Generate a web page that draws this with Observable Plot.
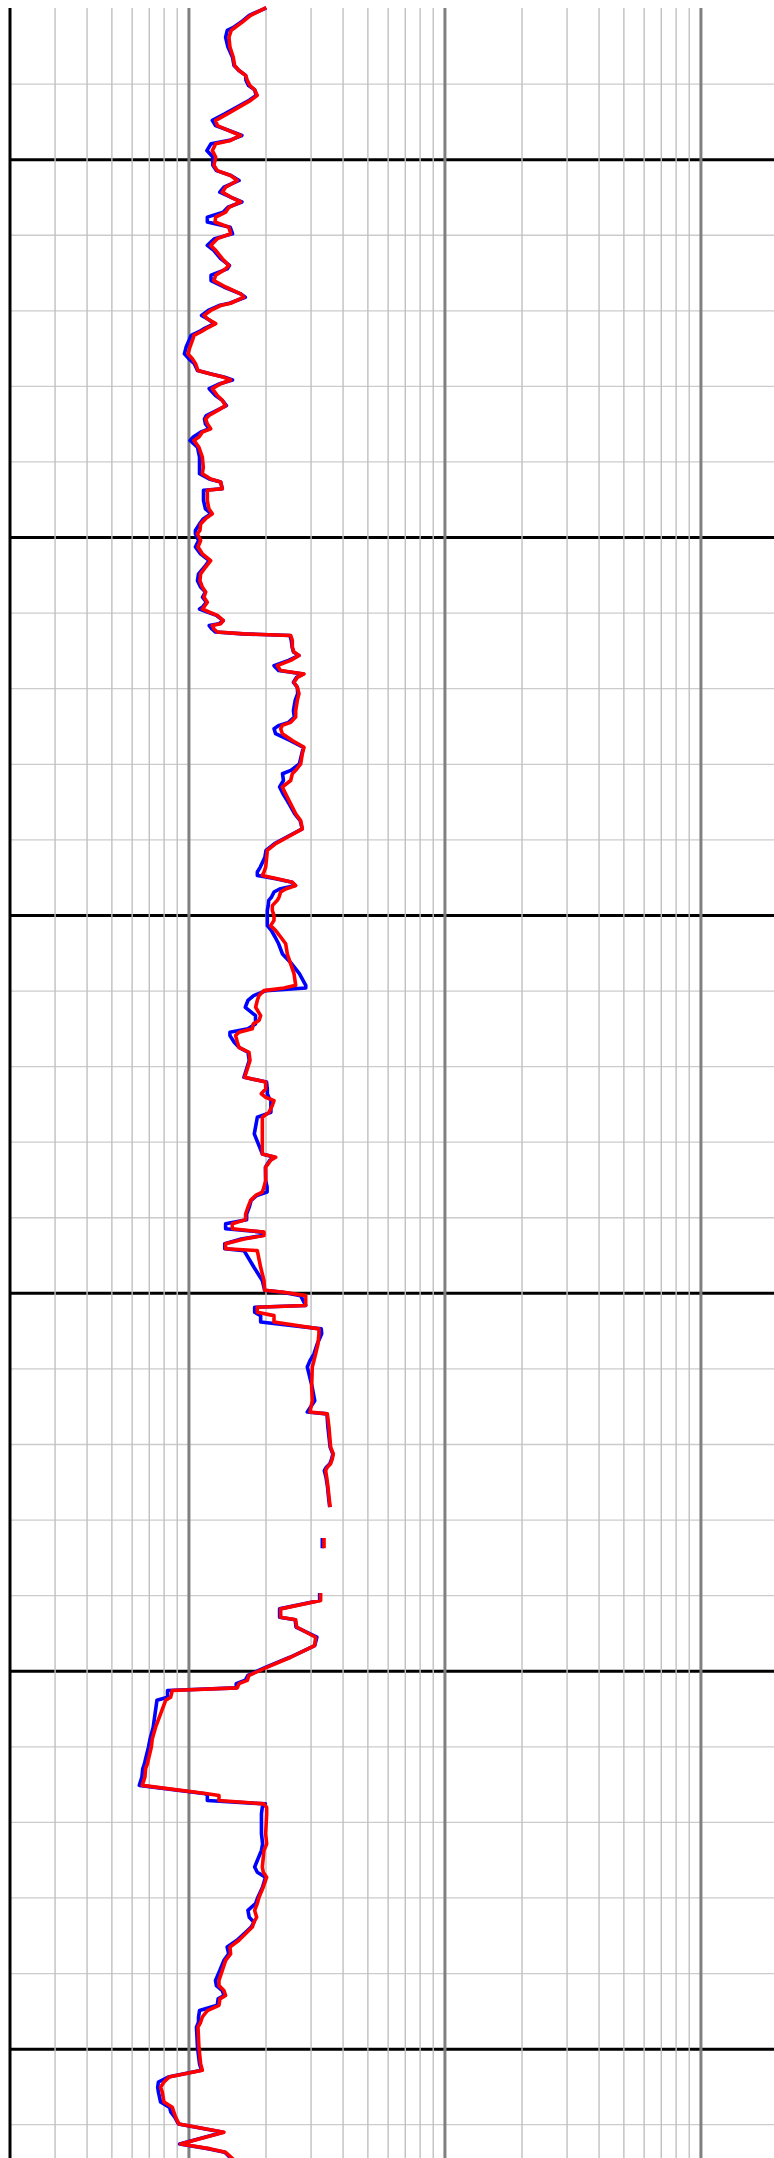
<!DOCTYPE html>
<html>
<head>
<meta charset="utf-8">
<script src="https://cdn.jsdelivr.net/npm/d3@7"></script>
<script src="https://cdn.jsdelivr.net/npm/@observablehq/plot@0.6"></script>
<style>
  html, body { margin: 0; padding: 0; background: #fff; }
  #chart svg { display: block; }
</style>
</head>
<body>
<div id="chart"></div>
<script>
// Depth samples (shared by both curves); NaN marks missing data
const depth = [
  960.0, 961.8, 963.6, 964.9, 965.8, 967.6, 970.2, 972.9, 975.1, 976.4,
  977.7, 979.0, 980.4, 981.5, 983.0, 984.3, 986.1, 987.9, 989.6, 991.0,
  992.3, 993.6, 994.9, 995.8, 997.6, 999.3, 1001.5, 1002.9, 1004.2, 1005.5,
  1007.3, 1008.6, 1009.9, 1011.2, 1012.6, 1013.9, 1015.2, 1016.5, 1017.9, 1019.6,
  1020.9, 1022.7, 1024.0, 1026.2, 1028.0, 1028.9, 1030.6, 1032.0, 1033.7, 1035.5,
  1036.4, 1038.0, 1038.6, 1039.9, 1041.2, 1042.1, 1043.4, 1044.8, 1045.6, 1046.5,
  1047.9, 1049.6, 1051.4, 1052.7, 1054.0, 1055.8, 1056.7, 1057.6, 1058.3, 1059.3,
  1060.6, 1062.4, 1063.7, 1065.1, 1066.4, 1067.7, 1068.6, 1069.9, 1071.2, 1072.1,
  1073.4, 1074.3, 1076.1, 1078.7, 1081.4, 1083.1, 1084.5, 1085.3, 1087.1, 1087.5,
  1090.2, 1092.4, 1093.7, 1095.0, 1096.4, 1098.1, 1099.0, 1100.8, 1102.5, 1104.3,
  1106.1, 1107.8, 1109.6, 1111.4, 1113.1, 1114.4, 1115.8, 1117.1, 1118.4, 1118.9,
  1119.7, 1120.6, 1122.0, 1122.8, 1123.3, 1124.2, 1125.0, 1125.5, 1125.9, 1127.2,
  1129.0, 1130.3, 1131.2, 1132.5, 1133.9, 1135.2, 1136.1, 1137.0, 1138.3, 1139.6,
  1141.3, 1143.1, 1145.8, 1147.5, 1148.9, 1149.7, 1150.6, 1151.9, 1153.7, 1155.5,
  1157.2, 1159.9, 1161.6, 1162.5, 1164.3, 1166.0, 1167.8, 1169.6, 1171.3, 1173.1,
  1174.9, 1177.1, 1179.3, 1181.0, 1182.8, 1184.6, 1187.2, 1188.5, 1189.4, 1190.3,
  1191.2, 1192.1, 1193.0, 1193.8, 1195.2, 1196.0, 1197.4, 1198.7, 1200.0, 1201.3,
  1202.7, 1204.0, 1205.7, 1207.5, 1210.2, 1212.8, 1215.4, 1218.5, 1219.2, 1219.9,
  1221.2, 1222.5, 1224.3, 1226.5, 1227.8, 1228.7, 1230.0, 1230.9, 1231.8, 1233.5,
  1234.9, 1236.2, 1238.4, 1242.8, 1244.1, 1245.9, 1247.2, 1248.1, 1249.0, 1250.3,
  1252.1, 1253.4, 1257.8, 1263.1, 1264.0, 1264.8, 1266.6, 1270.1, 1271.9, 1273.2,
  1274.1, 1275.4, 1277.2, 1279.0, 1280.5, 1281.6, 1282.9, 1283.8, 1284.7, 1285.6,
  1286.9, 1288.2, 1288.7, 1293.1, 1296.6, 1299.2, 1299.7, 1300.6, 1303.2, 1303.7,
  1305.0, 1305.9, 1307.6, 1309.4, 1310.7, 1313.4, 1316.0, 1317.8, 1319.5, 1324.8,
  1328.4, 1331.4, 1331.9, 1335.4, 1340.7, 1342.5, 1343.8, 1345.1, 1346.0, 1346.9,
  1348.6, 1351.3, 1353.9, 1356.1, 1360.0, 1365.2, 1367.0, 1373.0, 1379.8, 1381.3,
  1383.5, 1385.7, 1386.4, 1388.3, 1391.0, 1393.2, 1396.3, 1398.9, 1401.1, 1402.4,
  1403.3, 1404.4, 1405.1, 1406.9, 1407.7, 1414.8, 1417.9, 1420.1, 1422.7, 1424.5,
  1425.8, 1428.0, 1430.2, 1432.4, 1432.9, 1434.2, 1435.1, 1436.0, 1437.7, 1443.0,
  1445.7, 1447.4, 1451.8, 1453.2, 1454.5, 1457.1, 1459.8, 1461.5, 1463.3, 1465.1,
  1466.4, 1467.7, 1469.0, 1471.2, 1473.0, 1474.8, 1476.5, 1479.2, 1481.8, 1483.2,
  1484.5, 1485.8, 1486.7, 1488.4, 1489.8, 1491.5, 1492.9, 1494.2, 1499.5, 1503.9,
  1505.6, 1507.4, 1508.7, 1510.1, 1511.4, 1514.0, 1515.4, 1516.7, 1518.0, 1519.8,
  1522.0, 1525.1, 1526.4, 1527.3, 1528.9
];

const redCurve = [
  19.76, 17.42, 16.16, 15.22, 14.63, 14.33, 14.46, 14.90, 15.08, 15.68,
  16.65, 16.90, 17.32, 18.06, 18.49, 17.42, 15.68, 14.12, 12.72, 12.91,
  14.33, 15.92, 14.55, 12.72, 12.34, 12.72, 12.52, 12.91, 14.55, 15.45,
  13.91, 13.50, 14.55, 15.92, 14.33, 13.91, 12.72, 12.64, 14.33, 14.55,
  12.91, 12.16, 12.72, 13.50, 14.33, 13.91, 12.72, 12.52, 13.91, 15.92,
  16.41, 14.55, 13.30, 12.16, 11.45, 11.80, 12.72, 11.62, 11.11, 10.46,
  10.31, 10.09, 9.91, 10.31, 10.62, 10.85, 12.16, 13.70, 14.55, 13.30,
  12.34, 12.91, 13.50, 13.91, 12.91, 11.97, 11.62, 11.80, 12.16, 11.28,
  10.94, 10.46, 10.94, 11.28, 11.38, 11.28, 12.16, 13.30, 13.50, 11.80,
  11.80, 11.97, 12.34, 11.62, 11.11, 11.04, 10.78, 11.11, 10.85, 11.28,
  12.16, 11.62, 11.11, 11.04, 11.28, 11.62, 11.45, 11.80, 11.45, 11.28,
  11.97, 12.91, 13.62, 13.30, 12.34, 12.52, 12.91, 16.41, 24.97, 25.34,
  25.34, 25.73, 26.91, 24.97, 22.14, 22.82, 28.15, 26.51, 25.73, 26.51,
  26.91, 26.51, 26.12, 26.12, 24.97, 23.16, 22.82, 23.16, 25.34, 28.15,
  27.73, 27.32, 26.12, 25.34, 24.97, 23.16, 23.87, 24.60, 25.34, 26.12,
  27.32, 27.73, 24.23, 21.82, 20.24, 20.12, 19.94, 19.64, 19.35, 22.14,
  25.34, 26.12, 23.87, 22.82, 22.48, 22.14, 21.17, 21.17, 21.49, 21.49,
  20.85, 21.82, 22.82, 23.87, 24.23, 24.97, 25.73, 26.12, 23.51, 19.64,
  18.78, 18.49, 18.22, 19.06, 18.78, 17.84, 17.68, 15.68, 15.22, 15.45,
  15.68, 17.16, 17.32, 16.51, 19.94, 19.94, 19.17, 19.94, 21.49, 21.17,
  20.54, 19.35, 19.35, 19.35, 21.82, 20.85, 19.94, 19.94, 19.64, 19.35,
  18.22, 17.42, 17.01, 16.65, 16.65, 14.77, 14.77, 19.64, 19.64, 16.41,
  13.91, 13.91, 18.49, 19.06, 19.64, 19.76, 23.51, 28.58, 28.58, 18.49,
  18.49, 21.49, 21.49, 32.20, 32.20, 31.92, 31.25, 30.79, 30.33, 30.15,
  30.33, 29.71, 34.72, 35.24, 35.77, 36.64, 36.31, 35.77, 34.72, 34.20,
  34.51, 34.93, 35.24, 35.56, NaN, 33.7, 33.7, NaN, 32.69, 32.69,
  22.82, 22.82, 26.12, 26.35, 31.25, 30.97, 24.97, 20.24, 17.16, 16.90,
  15.68, 15.45, 8.61, 8.48, 8.11, 7.41, 7.19, 7.13, 6.98, 6.88,
  6.77, 6.73, 6.57, 11.80, 13.10, 13.10, 19.64, 20.12, 20.12, 19.94,
  20.12, 19.64, 19.35, 19.52, 20.12, 19.52, 18.78, 18.49, 18.06, 18.39,
  17.95, 17.68, 16.90, 15.68, 14.46, 14.55, 13.91, 13.50, 13.10, 13.10,
  13.70, 13.91, 13.22, 13.10, 11.80, 11.28, 11.11, 10.85, 10.94, 11.11,
  11.28, 8.36, 7.99, 7.75, 7.87, 7.99, 8.61, 8.74, 8.87, 9.14,
  13.70, 9.28, 12.16, 13.91, 14.77
];

const blueCurve = [
  19.76, 17.2, 16.0, 15.0, 14.12, 13.91, 14.2, 14.8, 15.0, 15.68,
  16.65, 16.7, 17.1, 18.06, 18.3, 17.2, 15.4, 13.8, 12.34, 12.7,
  14.33, 16.1, 14.4, 12.2, 11.75, 12.4, 12.4, 12.8, 14.6, 15.7,
  13.7, 13.2, 14.55, 16.1, 14.2, 13.6, 11.8, 11.8, 14.5, 14.8,
  12.6, 11.8, 12.5, 13.3, 14.4, 14.1, 12.2, 12.2, 13.7, 15.9,
  16.6, 14.4, 13.1, 11.9, 11.2, 11.8, 12.6, 11.4, 10.9, 10.2,
  10.0, 9.75, 9.6, 10.0, 10.5, 10.8, 12.2, 13.8, 14.8, 13.2,
  12.0, 12.7, 13.5, 14.0, 12.8, 11.7, 11.5, 11.6, 12.0, 11.1,
  10.4, 10.1, 10.8, 11.0, 11.0, 11.0, 12.0, 13.3, 13.5, 11.4,
  11.4, 11.6, 12.2, 11.4, 11.0, 10.6, 10.6, 10.9, 10.6, 11.1,
  12.0, 11.5, 10.9, 10.8, 11.1, 11.6, 11.3, 11.7, 11.3, 11.0,
  11.8, 12.8, 13.6, 13.1, 12.0, 12.3, 12.7, 16.2, 24.8, 25.1,
  25.3, 25.6, 26.9, 24.5, 21.5, 22.4, 28.0, 26.3, 25.6, 26.5,
  26.6, 26.0, 25.6, 25.8, 24.5, 22.5, 21.5, 21.8, 24.8, 28.0,
  27.6, 27.0, 25.0, 23.2, 23.4, 22.6, 23.3, 24.2, 25.0, 25.9,
  27.2, 27.7, 24.0, 21.6, 20.0, 19.8, 19.0, 18.5, 18.5, 21.8,
  25.3, 26.0, 22.6, 21.5, 21.0, 20.5, 20.4, 20.24, 20.24, 20.24,
  20.24, 21.0, 21.7, 22.4, 23.2, 25.2, 27.0, 28.6, 28.6, 20.0,
  17.9, 17.0, 16.6, 18.2, 18.2, 18.2, 17.0, 14.46, 14.46, 15.0,
  15.68, 17.0, 17.2, 16.4, 20.1, 20.24, 20.24, 20.5, 20.9, 20.9,
  20.9, 18.5, 18.0, 19.35, 21.6, 20.7, 19.9, 19.94, 20.2, 20.2,
  18.4, 17.5, 17.2, 16.8, 16.8, 13.91, 13.91, 19.4, 19.4, 16.0,
  13.8, 13.8, 16.41, 17.95, 19.35, 19.76, 23.2, 27.3, 28.58, 18.06,
  18.06, 19.06, 19.06, 32.88, 33.0, 31.7, 30.79, 29.7, 29.0, 30.3,
  31.0, 29.0, 34.6, 34.9, 35.6, 36.5, 36.1, 35.5, 34.4, 33.8,
  34.3, 34.8, 35.1, 35.4, NaN, 33.19, 33.19, NaN, 32.4, 32.4,
  22.6, 22.6, 26.0, 26.2, 31.6, 31.0, 24.8, 20.0, 17.0, 16.6,
  15.3, 15.3, 8.25, 8.25, 7.5, 7.25, 7.05, 6.95, 6.8, 6.7,
  6.6, 6.55, 6.4, 11.6, 11.8, 11.8, 19.9, 19.35, 19.2, 19.2,
  19.4, 19.2, 18.06, 18.5, 19.9, 19.4, 18.6, 18.2, 17.0, 17.2,
  17.95, 17.5, 16.7, 15.4, 14.1, 14.3, 13.7, 13.2, 12.7, 12.8,
  13.5, 13.7, 13.0, 12.9, 11.0, 10.9, 10.9, 10.7, 10.8, 11.0,
  11.2, 8.3, 7.6, 7.55, 7.6, 7.75, 8.4, 8.5, 8.8, 9.1,
  13.6, 9.2, 12.0, 13.8, 14.6
];

// Grid values
const xMinorTicks = [3,4,5,6,7,8,9, 20,30,40,50,60,70,80,90, 200,300,400,500,600,700,800,900];
const xMajorTicks = [10, 100, 1000];
const xAxisLeft = [2];
const depthMinor = [980,1020,1040,1060,1080,1120,1140,1160,1180,1220,1240,1260,1280,1320,1340,1360,1380,1420,1440,1460,1480,1520];
const depthMajor = [1000,1100,1200,1300,1400,1500];

const rows = depth.map((d, i) => ({depth: d, red: redCurve[i], blue: blueCurve[i]}));

const chart = Plot.plot({
  width: 774,
  height: 2158,
  marginTop: 8,
  marginLeft: 9.5,
  marginRight: 0,
  marginBottom: 0,
  x: {type: "log", domain: [2, 2000], range: [9.5, 777.5], axis: null},
  y: {domain: [960, 1530], range: [8, 2162], axis: null},
  marks: [
    Plot.ruleY(depthMinor, {stroke: "#cccccc", strokeWidth: 1.3}),
    Plot.ruleY(depthMajor, {stroke: "#000000", strokeWidth: 3}),
    Plot.ruleX(xMinorTicks, {stroke: "#c0c0c0", strokeWidth: 1.4}),
    Plot.ruleX(xMajorTicks, {stroke: "#808080", strokeWidth: 3}),
    Plot.ruleX(xAxisLeft, {stroke: "#000000", strokeWidth: 3}),
    Plot.line(rows, {x: "blue", y: "depth", stroke: "#0000ff", strokeWidth: 3.6, strokeLinejoin: "round", strokeLinecap: "square"}),
    Plot.line(rows, {x: "red", y: "depth", stroke: "#ff0000", strokeWidth: 3.6, strokeLinejoin: "round", strokeLinecap: "square"})
  ]
});
document.getElementById("chart").appendChild(chart);
</script>
</body>
</html>
